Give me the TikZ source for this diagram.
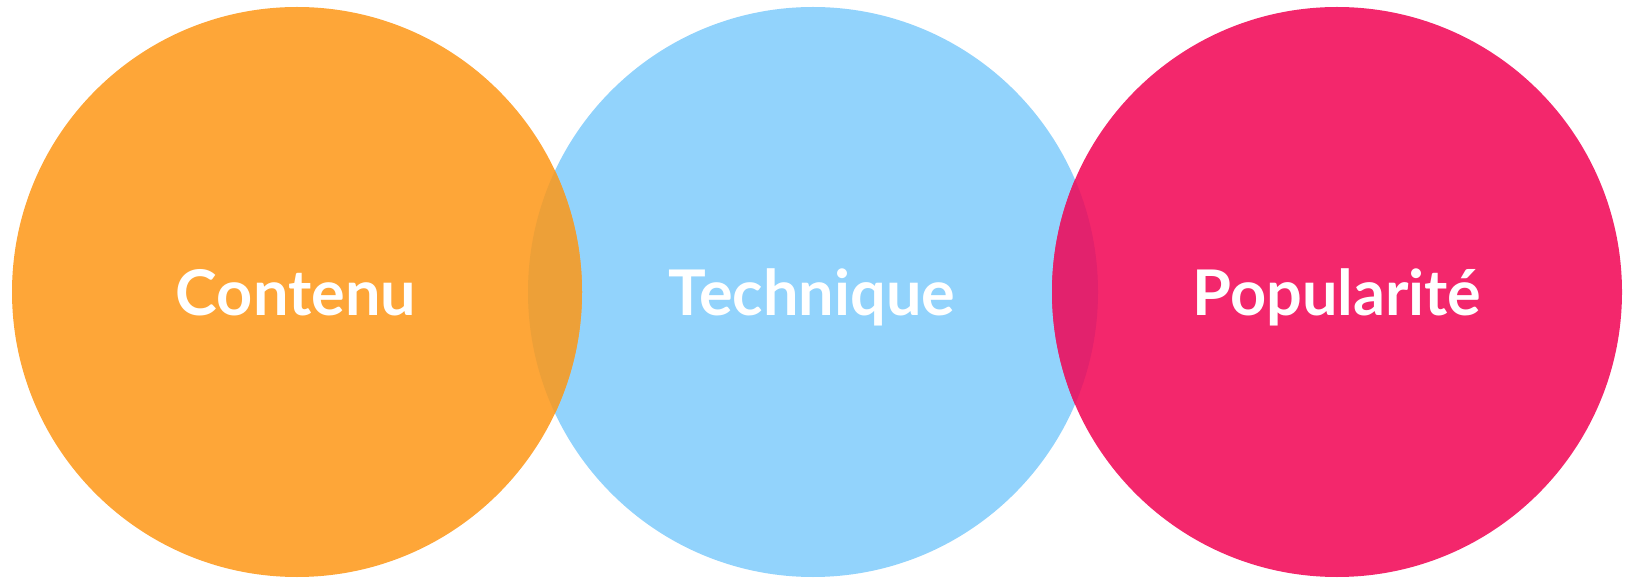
\documentclass[tikz,border=0pt]{standalone}
\usepackage{fontspec}
\setmainfont{Lato}
\definecolor{corange}{HTML}{FEA638}
\definecolor{cblue}{HTML}{92D3FC}
\definecolor{cpink}{HTML}{F3276C}
\definecolor{lensob}{HTML}{EDA038}
\definecolor{lensbp}{HTML}{E2226D}
\tikzset{
  bubble/.style={circle, minimum size=570pt, inner sep=0pt, draw=none},
  lbl/.style={text=white, font=\fontsize{63}{63}\selectfont\bfseries, anchor=base, inner sep=0pt}
}
\begin{document}
\begin{tikzpicture}[x=1pt,y=1pt]
\useasboundingbox (0,0) rectangle (1631,579);
\node[bubble, fill=cblue] (tech) at (813,287) {};
\node[bubble, fill=corange] (cont) at (297,287) {};
\node[bubble, fill=cpink] (pop) at (1337,287) {};
\begin{scope}
  \clip (297,287) circle (285);
  \fill[lensob] (813,287) circle (285);
\end{scope}
\begin{scope}
  \clip (1337,287) circle (285);
  \fill[lensbp] (813,287) circle (285);
\end{scope}
\node[lbl] (t1) at (296,263) {Contenu};
\node[lbl] (t2) at (812,263) {Technique};
\node[lbl] (t3) at (1337,263) {Popularité};
\end{tikzpicture}
\end{document}
